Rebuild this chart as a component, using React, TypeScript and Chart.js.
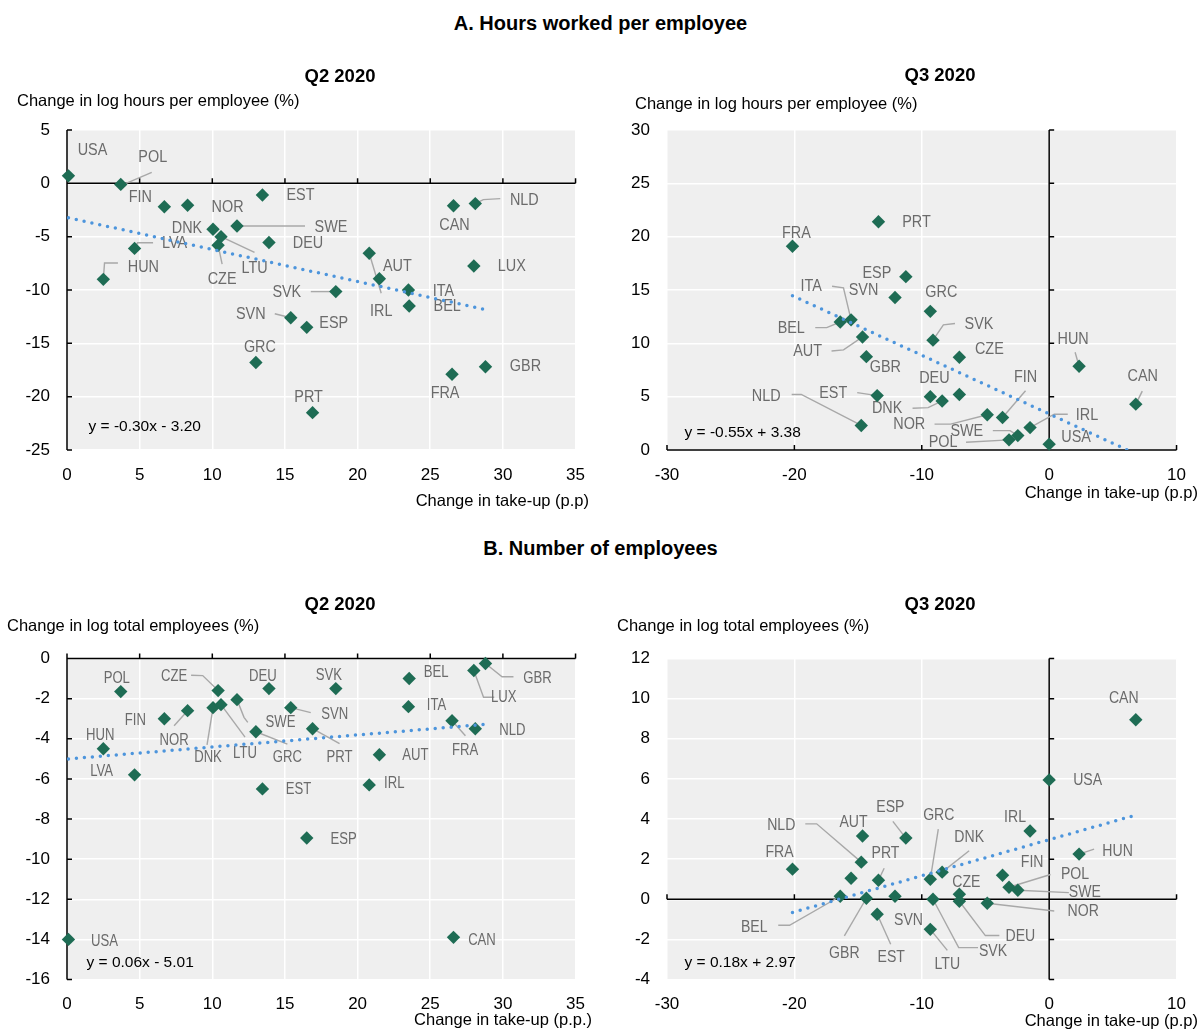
import React, { useEffect, useRef } from 'react';
import { Chart, registerables } from 'chart.js';

Chart.register(...registerables);

const FONT = "'Liberation Sans', Arial, Helvetica, sans-serif";
const GREEN = '#1e6c54';
const TREND = '#4d95dc';
const LABEL_GREY = '#6b6b6b';
const LEADER_GREY = '#a8a8a8';
const PANEL_BG = '#efefef';

// ---------- Q2 2020 ----------
const q2Countries = ['USA', 'HUN', 'POL', 'LVA', 'FIN', 'NOR', 'DNK', 'CZE', 'LTU', 'SWE', 'GRC', 'EST', 'DEU', 'SVN', 'ESP', 'PRT', 'SVK', 'IRL', 'AUT', 'ITA', 'BEL', 'FRA', 'CAN', 'LUX', 'NLD', 'GBR'];
const q2TakeUp = [0.1, 2.5, 3.7, 4.65, 6.7, 8.3, 10.05, 10.4, 10.6, 11.7, 13.0, 13.45, 13.9, 15.4, 16.5, 16.9, 18.5, 20.8, 21.5, 23.5, 23.55, 26.5, 26.6, 28.0, 28.1, 28.8];
const q2Hours = [0.7, -9.0, -0.1, -6.1, -2.2, -2.05, -4.3, -5.8, -5.0, -4.0, -16.8, -1.1, -5.55, -12.6, -13.5, -21.5, -10.15, -6.55, -8.95, -10.0, -11.5, -17.9, -2.1, -7.75, -1.9, -17.2];
const q2Employees = [-14.0, -4.5, -1.65, -5.8, -3.0, -2.6, -2.45, -1.6, -2.3, -2.05, -3.65, -6.5, -1.5, -2.45, -8.95, -3.5, -1.5, -6.3, -4.8, -2.4, -1.0, -3.1, -13.9, -0.6, -3.5, -0.25];

// ---------- Q3 2020 ----------
const q3Countries = ['FRA', 'BEL', 'ITA', 'NLD', 'AUT', 'GBR', 'EST', 'PRT', 'SVN', 'ESP', 'LTU', 'GRC', 'SVK', 'DNK', 'CZE', 'DEU', 'NOR', 'FIN', 'POL', 'SWE', 'IRL', 'USA', 'HUN', 'CAN'];
const q3TakeUp = [-20.15, -16.4, -15.55, -14.75, -14.65, -14.35, -13.5, -13.4, -12.1, -11.25, -9.33, -9.33, -9.12, -8.4, -7.05, -7.05, -4.86, -3.66, -3.15, -2.46, -1.5, 0.0, 2.35, 6.8];
const q3Hours = [19.1, 12.0, 12.2, 2.3, 10.6, 8.75, 5.1, 21.4, 14.3, 16.25, 5.0, 13.0, 10.3, 4.6, 8.7, 5.2, 3.3, 3.05, 0.95, 1.35, 2.1, 0.55, 7.85, 4.3];
const q3Employees = [1.5, 0.15, 1.05, 1.85, 3.15, 0.05, -0.75, 0.95, 0.15, 3.05, -1.5, 1.0, 0.0, 1.35, 0.25, -0.1, -0.2, 1.2, 0.6, 0.45, 3.4, 5.95, 2.25, 8.95];

// Linear fits: [slope, intercept]
const hoursQ2Fit = [-0.30, -3.20];
const hoursQ3Fit = [-0.55, 3.38];
const employeesQ2Fit = [0.06, -5.01];
const employeesQ3Fit = [0.18, 2.97];

// Axis ticks
const q2TakeUpTicks = [0, 5, 10, 15, 20, 25, 30, 35];
const q3TakeUpTicks = [-30, -20, -10, 0, 10];
const hoursQ2Ticks = [-25, -20, -15, -10, -5, 0, 5];
const hoursQ3Ticks = [0, 5, 10, 15, 20, 25, 30];
const employeesQ2Ticks = [-16, -14, -12, -10, -8, -6, -4, -2, 0];
const employeesQ3Ticks = [-4, -2, 0, 2, 4, 6, 8, 10, 12];

// Country label placement: offset of the label centre from its marker (px),
// plus an optional leader polyline (offsets from the marker).
type Place = { at: [number, number]; lead?: [number, number][] };

const hoursQ2Places: Record<string, Place> = {
  USA: { at: [24, -25] },
  POL: { at: [32, -27], lead: [[31, -12], [3, 0]] },
  FIN: { at: [-24, -9] },
  NOR: { at: [40, 2] },
  EST: { at: [38, 1] },
  DNK: { at: [-26, -1] },
  SWE: { at: [94, 2], lead: [[68, 0], [0, 0]] },
  DEU: { at: [39, 1] },
  LTU: { at: [33.5, 31.7], lead: [[33.5, 15.7], [0, 0]] },
  CZE: { at: [4, 34], lead: [[4, 19], [0, 0]] },
  LVA: { at: [40, -5], lead: [[18.5, -5.6], [3, -5.6], [0, 0]] },
  HUN: { at: [40, -12], lead: [[14.6, -16.3], [1.2, -16.3], [0, 0]] },
  CAN: { at: [1, 20] },
  NLD: { at: [49, -3], lead: [[25, -5], [8, -4], [0, 0]] },
  IRL: { at: [12, 58], lead: [[12, 40], [0, 0]] },
  AUT: { at: [18, -12] },
  LUX: { at: [38, 1] },
  SVK: { at: [-49, 1], lead: [[-25, 0], [0, 0]] },
  ITA: { at: [35, 2] },
  BEL: { at: [38, 1] },
  SVN: { at: [-40, -3], lead: [[-16, -4], [0, 0]] },
  ESP: { at: [27, -4] },
  GRC: { at: [4, -15] },
  PRT: { at: [-4, -15] },
  FRA: { at: [-7, 19] },
  GBR: { at: [40, 0] },
};

const hoursQ3Places: Record<string, Place> = {
  PRT: { at: [38, 1] },
  FRA: { at: [4, -13] },
  ESP: { at: [-29, -3] },
  SVN: { at: [-31.5, -7] },
  ITA: { at: [-40, -33], lead: [[-19, -33.6], [-7.6, -32], [0, 0]] },
  GRC: { at: [11, -19] },
  BEL: { at: [-49, 7], lead: [[-25, 5.6], [-13.5, 5.6], [0, 0]] },
  AUT: { at: [-55, 15], lead: [[-31, 14], [-19, 13], [0, 0]] },
  GBR: { at: [19, 11] },
  SVK: { at: [46, -16], lead: [[22, -16.6], [10.4, -15.3], [0, 0]] },
  CZE: { at: [30, -8] },
  HUN: { at: [-6, -27], lead: [[-4, -14], [0, 0]] },
  CAN: { at: [7, -28], lead: [[6.5, -13], [0, 0]] },
  DEU: { at: [-25, -16] },
  EST: { at: [-44, -2], lead: [[-20, -3], [0, 0]] },
  NLD: { at: [-95, -29], lead: [[-69.6, -31], [-60, -31], [0, 0]] },
  DNK: { at: [-55, 8], lead: [[-29.6, 7.3], [-14, 6.7], [0, 0]] },
  NOR: { at: [-78, 10], lead: [[-52.7, 9.3], [-36.6, 9.3], [0, 0]] },
  FIN: { at: [23, -40], lead: [[23, -26.7], [0, 0]] },
  IRL: { at: [57, -12], lead: [[37.7, -13.4], [24.2, -13.4], [0, 0]] },
  SWE: { at: [-51, -4], lead: [[-25, -5], [-7.7, -5], [0, 0]] },
  POL: { at: [-66, 3], lead: [[-43, 2.4], [0, 0]] },
  USA: { at: [27, -7] },
};

const employeesQ2Places: Record<string, Place> = {
  POL: { at: [-4, -13] },
  HUN: { at: [-3, -13] },
  LVA: { at: [-33, -3] },
  FIN: { at: [-29, 2] },
  NOR: { at: [-13.5, 30], lead: [[-13.5, 15], [0, 0]] },
  CZE: { at: [-44, -14], lead: [[-27, -15.3], [-15.4, -15], [0, 0]] },
  DNK: { at: [-5, 50], lead: [[-6, 37.3], [0, 0]] },
  LTU: { at: [24, 49], lead: [[24, 32.4], [0, 0]] },
  SWE: { at: [43.5, 23], lead: [[10.8, 22.7], [7, 17.7], [0, 0]] },
  DEU: { at: [-6, -12] },
  GRC: { at: [31.5, 25.7], lead: [[31.5, 12.3], [0, 0]] },
  SVN: { at: [44, 7], lead: [[20, 5], [0, 0]] },
  PRT: { at: [27, 29], lead: [[27, 15], [0, 0]] },
  SVK: { at: [-7, -13] },
  EST: { at: [36, 1] },
  AUT: { at: [36, 1] },
  IRL: { at: [25, -1] },
  BEL: { at: [27, -6] },
  ITA: { at: [28, -1] },
  FRA: { at: [13, 30], lead: [[13.4, 15], [0, 0]] },
  NLD: { at: [37, 2] },
  LUX: { at: [30, 27], lead: [[20.4, 26.7], [9.7, 26.7], [0, 0]] },
  GBR: { at: [52, 14.7], lead: [[28, 13.3], [16.6, 13.3], [0, 0]] },
  ESP: { at: [37, 2] },
  USA: { at: [36, 2] },
  CAN: { at: [28.5, 3.4] },
};

const employeesQ3Places: Record<string, Place> = {
  CAN: { at: [-12, -21] },
  USA: { at: [38.5, 1] },
  IRL: { at: [-15, -13] },
  HUN: { at: [38.5, -3], lead: [[15, -5], [0, 0]] },
  AUT: { at: [-9, -13] },
  ESP: { at: [-15.5, -30], lead: [[-13, -16.7], [0, 0]] },
  GRC: { at: [8.5, -64], lead: [[8, -50], [0, 0]] },
  DNK: { at: [27, -35], lead: [[27, -21.4], [0, 0]] },
  NLD: { at: [-80, -37], lead: [[-56, -38.3], [-44.6, -38.3], [0, 0]] },
  FRA: { at: [-13, -17] },
  PRT: { at: [7, -27], lead: [[5.7, -12], [0, 0]] },
  BEL: { at: [-86, 31], lead: [[-62, 29], [-50.7, 29], [0, 0]] },
  GBR: { at: [-22, 55], lead: [[-22, 37.7], [0, 0]] },
  SVN: { at: [13.5, 24] },
  EST: { at: [14, 43], lead: [[13.5, 30], [0, 0]] },
  LTU: { at: [17, 35], lead: [[17, 21], [0, 0]] },
  SVK: { at: [60, 52], lead: [[45, 48.4], [25.7, 48.4], [0, 0]] },
  DEU: { at: [61, 35], lead: [[40, 34.3], [26, 34.3], [0, 0]] },
  CZE: { at: [7, -12] },
  NOR: { at: [96, 8], lead: [[67, 7.7], [0, 0]] },
  FIN: { at: [29.6, -12.3] },
  POL: { at: [66, -13], lead: [[41.5, -12.7], [0, 0]] },
  SWE: { at: [67, 2.4], lead: [[51, 2.4], [0, 0]] },
};

interface PanelSpec {
  box: [number, number, number, number]; // canvas left, top, width, height (page px)
  area: [number, number, number, number]; // plot area left, top, right, bottom (page px)
  countries: string[];
  xs: number[];
  ys: number[];
  xTicks: number[];
  yTicks: number[];
  fit: number[];
  places: Record<string, Place>;
  labelSqueeze: number;
  subtitle: string;
  subtitleAt: [number, number];
  yTitle: string;
  yTitleAt: [number, number];
  xTitle: string;
  xTitleAt: [number, number];
  eqAt: [number, number];
}

const PANELS: PanelSpec[] = [
  {
    box: [0, 40, 600, 480],
    area: [67, 130, 580, 450],
    countries: q2Countries, xs: q2TakeUp, ys: q2Hours,
    xTicks: q2TakeUpTicks, yTicks: hoursQ2Ticks, fit: hoursQ2Fit, places: hoursQ2Places,
    labelSqueeze: 0.9,
    subtitle: 'Q2 2020', subtitleAt: [340, 76.5],
    yTitle: 'Change in log hours per employee (%)', yTitleAt: [17, 101.5],
    xTitle: 'Change in take-up (p.p)', xTitleAt: [589, 501.5],
    eqAt: [88.5, 427],
  },
  {
    box: [600, 40, 601, 480],
    area: [667, 130, 1180, 450],
    countries: q3Countries, xs: q3TakeUp, ys: q3Hours,
    xTicks: q3TakeUpTicks, yTicks: hoursQ3Ticks, fit: hoursQ3Fit, places: hoursQ3Places,
    labelSqueeze: 0.9,
    subtitle: 'Q3 2020', subtitleAt: [940, 75.5],
    yTitle: 'Change in log hours per employee (%)', yTitleAt: [635, 104],
    xTitle: 'Change in take-up (p.p)', xTitleAt: [1198, 493],
    eqAt: [684.5, 433],
  },
  {
    box: [0, 560, 600, 472],
    area: [67, 658.5, 580, 979.5],
    countries: q2Countries, xs: q2TakeUp, ys: q2Employees,
    xTicks: q2TakeUpTicks, yTicks: employeesQ2Ticks, fit: employeesQ2Fit, places: employeesQ2Places,
    labelSqueeze: 0.82,
    subtitle: 'Q2 2020', subtitleAt: [340, 605],
    yTitle: 'Change in log total employees (%)', yTitleAt: [7, 626.5],
    xTitle: 'Change in take-up (p.p.)', xTitleAt: [592, 1020],
    eqAt: [86.5, 963],
  },
  {
    box: [600, 560, 601, 472],
    area: [667, 658.5, 1180, 979.5],
    countries: q3Countries, xs: q3TakeUp, ys: q3Employees,
    xTicks: q3TakeUpTicks, yTicks: employeesQ3Ticks, fit: employeesQ3Fit, places: employeesQ3Places,
    labelSqueeze: 0.88,
    subtitle: 'Q3 2020', subtitleAt: [940, 605],
    yTitle: 'Change in log total employees (%)', yTitleAt: [617, 626],
    xTitle: 'Change in take-up (p.p)', xTitleAt: [1198, 1021.5],
    eqAt: [684.5, 963],
  },
];

function fitText(fit: number[]): string {
  const [m, b] = fit;
  return `y = ${m.toFixed(2)}x ${b < 0 ? '-' : '+'} ${Math.abs(b).toFixed(2)}`;
}

function drawSqueezed(ctx: CanvasRenderingContext2D, text: string, x: number, y: number, size: number, squeeze: number) {
  ctx.save();
  ctx.translate(x, y);
  ctx.scale(squeeze, 1);
  ctx.font = `${size}px ${FONT}`;
  ctx.textAlign = 'center';
  ctx.textBaseline = 'middle';
  ctx.fillText(text, 0, 0);
  ctx.restore();
}

function makeDecor(spec: PanelSpec) {
  const ox = spec.box[0];
  const oy = spec.box[1];
  return {
    id: 'panelDecor',
    beforeDraw(chart: any) {
      const { ctx, chartArea: a } = chart;
      ctx.save();
      ctx.fillStyle = PANEL_BG;
      ctx.fillRect(a.left, a.top, a.right - a.left, a.bottom - a.top);
      ctx.restore();
    },
    beforeDatasetsDraw(chart: any) {
      const { ctx, chartArea: a } = chart;
      const xs = chart.scales.x;
      const ys = chart.scales.y;
      const x0 = xs.getPixelForValue(0);
      const y0 = ys.getPixelForValue(0);
      ctx.save();
      // axes crossing at zero, with short tick marks
      ctx.strokeStyle = '#000';
      ctx.lineWidth = 1.5;
      ctx.beginPath();
      ctx.moveTo(a.left, y0);
      ctx.lineTo(a.right, y0);
      ctx.moveTo(x0, a.top);
      ctx.lineTo(x0, a.bottom);
      for (const t of xs.ticks) {
        const p = xs.getPixelForValue(t.value);
        ctx.moveTo(p, y0);
        ctx.lineTo(p, y0 - 5);
      }
      for (const t of ys.ticks) {
        const p = ys.getPixelForValue(t.value);
        ctx.moveTo(x0, p);
        ctx.lineTo(x0 + 5, p);
      }
      ctx.stroke();

      // country labels and leader lines
      ctx.strokeStyle = LEADER_GREY;
      ctx.lineWidth = 1.4;
      ctx.fillStyle = LABEL_GREY;
      spec.countries.forEach((c, i) => {
        const place = spec.places[c];
        if (!place) return;
        const cx = xs.getPixelForValue(spec.xs[i]);
        const cy = ys.getPixelForValue(spec.ys[i]);
        if (place.lead) {
          ctx.beginPath();
          place.lead.forEach(([dx, dy], k) => {
            if (k === 0) ctx.moveTo(cx + dx, cy + dy);
            else ctx.lineTo(cx + dx, cy + dy);
          });
          ctx.stroke();
        }
        drawSqueezed(ctx, c, cx + place.at[0], cy + place.at[1], 16, spec.labelSqueeze);
      });
      ctx.restore();
    },
    afterDraw(chart: any) {
      const { ctx } = chart;
      ctx.save();
      ctx.fillStyle = '#000';
      ctx.textBaseline = 'middle';

      ctx.font = `bold 18.5px ${FONT}`;
      ctx.textAlign = 'center';
      ctx.fillText(spec.subtitle, spec.subtitleAt[0] - ox, spec.subtitleAt[1] - oy);

      ctx.font = `16.5px ${FONT}`;
      ctx.textAlign = 'left';
      ctx.fillText(spec.yTitle, spec.yTitleAt[0] - ox, spec.yTitleAt[1] - oy);

      ctx.textAlign = 'right';
      ctx.fillText(spec.xTitle, spec.xTitleAt[0] - ox, spec.xTitleAt[1] - oy);

      ctx.font = `15.5px ${FONT}`;
      ctx.textAlign = 'left';
      ctx.fillText(fitText(spec.fit), spec.eqAt[0] - ox, spec.eqAt[1] - oy);
      ctx.restore();
    },
  };
}

function buildConfig(spec: PanelSpec): any {
  const [bx, by, bw, bh] = spec.box;
  const [al, at, ar, ab] = spec.area;
  const points = spec.countries.map((_, i) => ({ x: spec.xs[i], y: spec.ys[i] }));
  const xMin = Math.min(...spec.xs);
  const xMax = Math.max(...spec.xs);
  const [m, b] = spec.fit;
  const trend = [
    { x: xMin, y: m * xMin + b },
    { x: xMax, y: m * xMax + b },
  ];
  const tickFont = { family: FONT, size: 17 };
  return {
    type: 'scatter',
    data: {
      datasets: [
        {
          data: trend,
          showLine: true,
          borderColor: TREND,
          borderWidth: 3.5,
          borderDash: [0, 8],
          borderCapStyle: 'round',
          pointRadius: 0,
          pointHoverRadius: 0,
          clip: 0,
        },
        {
          data: points,
          pointStyle: 'rectRot',
          pointRadius: 6.7,
          pointHoverRadius: 6.7,
          backgroundColor: GREEN,
          borderWidth: 0,
          clip: false,
        },
      ],
    },
    options: {
      responsive: false,
      animation: false,
      events: [],
      layout: { padding: { left: 0, top: at - by, right: bx + bw - ar, bottom: 0 } },
      plugins: { legend: { display: false }, tooltip: { enabled: false } },
      scales: {
        x: {
          type: 'linear',
          position: 'bottom',
          min: spec.xTicks[0],
          max: spec.xTicks[spec.xTicks.length - 1],
          afterBuildTicks: (s: any) => {
            s.ticks = spec.xTicks.map((v) => ({ value: v }));
          },
          afterFit: (s: any) => {
            s.height = by + bh - ab;
          },
          grid: { color: '#ffffff', lineWidth: 1.5, drawTicks: false },
          border: { display: false },
          ticks: { font: tickFont, color: '#000', padding: 15, maxRotation: 0, autoSkip: false },
        },
        y: {
          type: 'linear',
          position: 'left',
          min: spec.yTicks[0],
          max: spec.yTicks[spec.yTicks.length - 1],
          afterBuildTicks: (s: any) => {
            s.ticks = spec.yTicks.map((v) => ({ value: v }));
          },
          afterFit: (s: any) => {
            s.width = al - bx;
          },
          grid: { color: '#ffffff', lineWidth: 1.5, drawTicks: false },
          border: { display: false },
          ticks: { font: tickFont, color: '#000', padding: 17, autoSkip: false },
        },
      },
    },
    plugins: [makeDecor(spec)],
  };
}

function Panel({ spec }: { spec: PanelSpec }) {
  const ref = useRef<HTMLCanvasElement>(null);
  useEffect(() => {
    if (!ref.current) return;
    const chart = new Chart(ref.current, buildConfig(spec));
    return () => chart.destroy();
  }, [spec]);
  const [l, t, w, h] = spec.box;
  return (
    <canvas
      ref={ref}
      width={w}
      height={h}
      style={{ position: 'absolute', left: l, top: t, width: w, height: h, display: 'block' }}
    />
  );
}

const headingStyle: React.CSSProperties = {
  position: 'absolute',
  left: 0,
  width: 1201,
  textAlign: 'center',
  fontFamily: FONT,
  fontWeight: 'bold',
  fontSize: 20,
  lineHeight: '24px',
  color: '#000',
  margin: 0,
};

export default function App() {
  return (
    <div style={{ position: 'absolute', left: 0, top: 0, width: 1201, height: 1032, background: '#fff', overflow: 'hidden' }}>
      <div style={{ ...headingStyle, top: 10.7 }}>A. Hours worked per employee</div>
      <div style={{ ...headingStyle, top: 536.2 }}>B. Number of employees</div>
      {PANELS.map((p, i) => (
        <Panel key={i} spec={p} />
      ))}
    </div>
  );
}
